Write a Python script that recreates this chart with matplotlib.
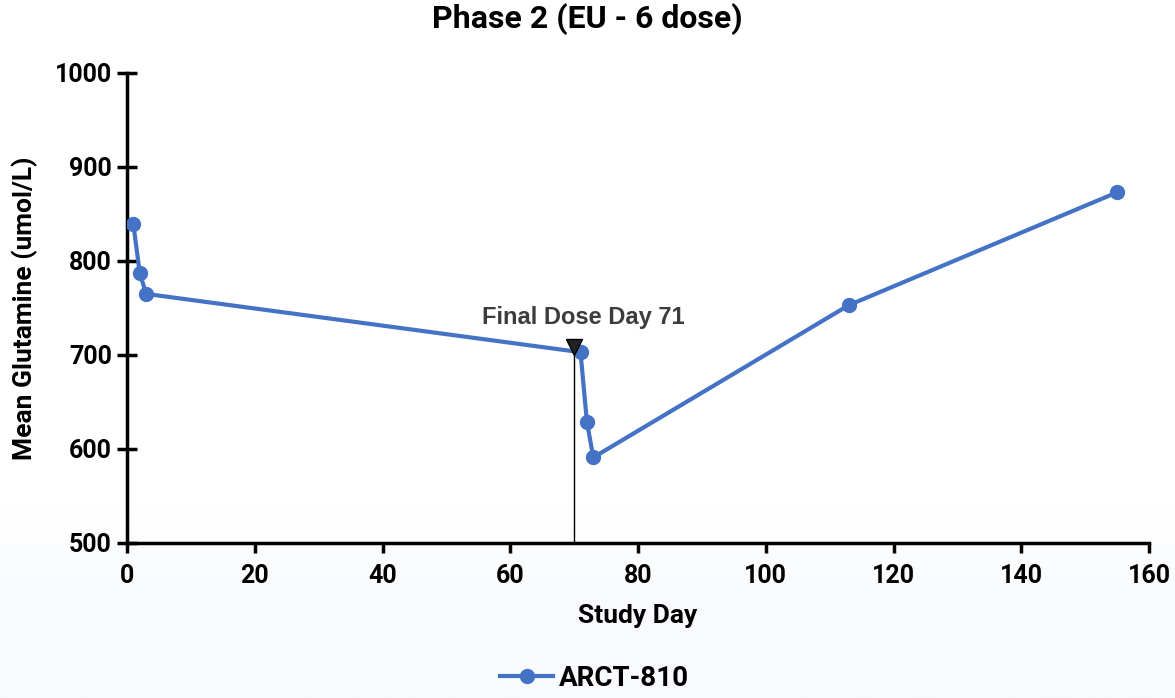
import numpy as np
import matplotlib.pyplot as plt
from matplotlib.colors import LinearSegmentedColormap

plt.rcParams['font.family'] = ['Roboto', 'DejaVu Sans']
plt.rcParams['font.weight'] = 'bold'

# Veriler
study_day = [1, 2, 3, 71, 72, 73, 113, 155]
glutamine = [839, 787, 765, 703, 629, 591, 753, 873]
series_name = 'ARCT-810'
final_dose_x = 70
final_dose_label = 'Final Dose Day 71'
x_ticks = [0, 20, 40, 60, 80, 100, 120, 140, 160]
y_ticks = [500, 600, 700, 800, 900, 1000]

line_color = '#4472C4'

fig = plt.figure(figsize=(11.75, 6.98), dpi=100)

# Arka plan: alta doğru hafif mavi geçiş
bg = fig.add_axes([0, 0, 1, 1], zorder=-10)
grad = np.linspace(0, 1, 256).reshape(-1, 1)
cmap = LinearSegmentedColormap.from_list(
    'bg', [(0, '#f8fafd'), (0.15, '#f9fbfd'), (0.27, '#ffffff'), (1, '#ffffff')])
bg.imshow(grad, aspect='auto', cmap=cmap, extent=[0, 1, 0, 1], origin='lower')
bg.axis('off')

ax = fig.add_axes([127 / 1175, 1 - 543 / 698, (1149 - 127) / 1175, (543 - 73) / 698])
ax.patch.set_alpha(0)

ax.plot(study_day, glutamine, color=line_color, lw=3, marker='o', markersize=10,
        label=series_name, zorder=3)

# Son doz çizgisi ve işaret
ax.plot([final_dose_x, final_dose_x], [500, glutamine[3]], color='black', lw=1, zorder=2)
ax.plot([final_dose_x], [glutamine[3] + 5], marker='v', color='#222222',
        markeredgecolor='black', markersize=12, zorder=4)
ax.text(final_dose_x + 1.5, glutamine[3] + 25, final_dose_label, ha='center', va='bottom',
        fontsize=17, fontweight='bold', color='#3c3c3c', family=['Liberation Sans'])

ax.set_xlim(0, 160)
ax.set_ylim(500, 1000)
ax.set_xticks(x_ticks)
ax.set_yticks(y_ticks)
for s in ['top', 'right']:
    ax.spines[s].set_visible(False)
for s in ['left', 'bottom']:
    ax.spines[s].set_linewidth(2.5)
ax.tick_params(axis='x', direction='out', length=7, width=2.5, labelsize=18, pad=8)
ax.tick_params(axis='y', direction='inout', length=14, width=2.5, labelsize=18, pad=4)
for lab in ax.get_xticklabels() + ax.get_yticklabels():
    lab.set_fontweight('bold')

ax.set_xlabel('Study Day', fontsize=19, fontweight='bold', labelpad=12)
ax.set_ylabel('Mean Glutamine (umol/L)', fontsize=19, fontweight='bold', labelpad=12)
fig.suptitle('Phase 2 (EU - 6 dose)', fontsize=23, fontweight='bold', y=0.995)

fig.legend(loc='lower center', bbox_to_anchor=(0.506, -0.027), frameon=False,
           handlelength=1.9, handletextpad=0.2, prop={'weight': 'bold', 'size': 20})

fig.savefig('out.png', dpi=100)
